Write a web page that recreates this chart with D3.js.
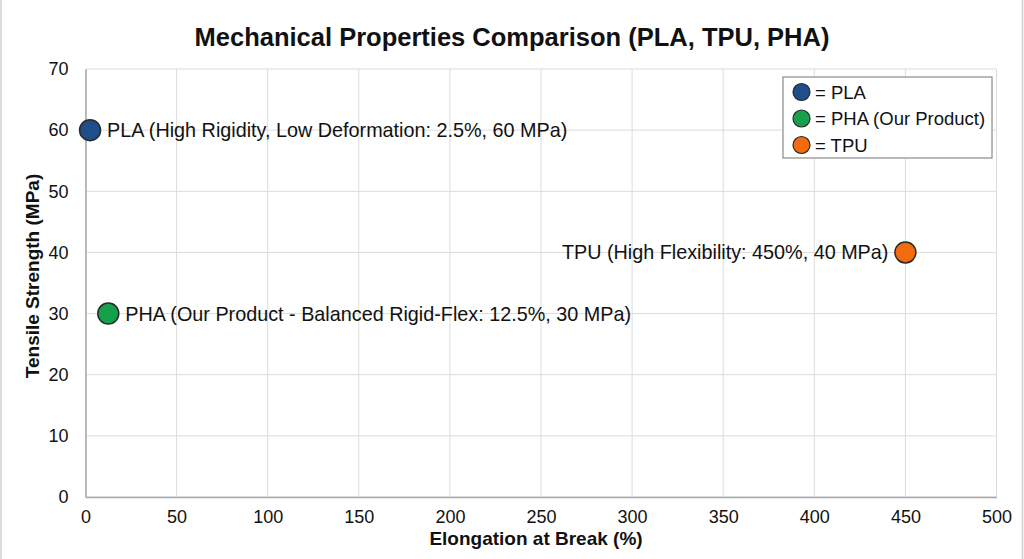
<!DOCTYPE html>
<html>
<head>
<meta charset="utf-8">
<script src="https://cdn.jsdelivr.net/npm/d3@7/dist/d3.min.js"></script>
<style>
  html, body { margin: 0; padding: 0; background: #fff; }
  svg { display: block; font-family: "Liberation Sans", Arial, Helvetica, sans-serif; }
</style>
</head>
<body>
<svg id="chart" width="1024" height="559"></svg>
<script>
const materials = ["PLA", "PHA", "TPU"];
const elongation = [2.5, 12.5, 450];
const tensile = [60, 30, 40];
const pointLabels = [
  "PLA (High Rigidity, Low Deformation: 2.5%, 60 MPa)",
  "PHA (Our Product - Balanced Rigid-Flex: 12.5%, 30 MPa)",
  "TPU (High Flexibility: 450%, 40 MPa)"
];
const labelSide = ["right", "right", "left"];
const colors = ["#1f4e8a", "#17a04c", "#f26b0c"];
const legendLabels = ["= PLA", "= PHA (Our Product)", "= TPU"];
const legendColors = ["#1f4e8a", "#17a04c", "#f26b0c"];
const xTicks = [0, 50, 100, 150, 200, 250, 300, 350, 400, 450, 500];
const yTicks = [0, 10, 20, 30, 40, 50, 60, 70];

const svg = d3.select("#chart");
const W = 1024, H = 559;
const m = { left: 85.5, right: 996.5, top: 69, bottom: 497 };

// outer frame lines
svg.append("line").attr("x1", 1).attr("x2", 1).attr("y1", 0).attr("y2", H)
  .attr("stroke", "#d0d0d0").attr("stroke-width", 1.5);
svg.append("line").attr("x1", 1022.5).attr("x2", 1022.5).attr("y1", 0).attr("y2", H)
  .attr("stroke", "#d0d0d0").attr("stroke-width", 1.5);

const x = d3.scaleLinear().domain([0, 500]).range([m.left, m.right]);
const y = d3.scaleLinear().domain([0, 70]).range([m.bottom, m.top]);

// gridlines
svg.append("g").selectAll("line").data(xTicks).join("line")
  .attr("x1", d => x(d)).attr("x2", d => x(d))
  .attr("y1", m.top).attr("y2", m.bottom)
  .attr("stroke", "#dcdcdc").attr("stroke-width", 1);
svg.append("g").selectAll("line").data(yTicks).join("line")
  .attr("x1", m.left).attr("x2", m.right)
  .attr("y1", d => y(d)).attr("y2", d => y(d))
  .attr("stroke", "#dcdcdc").attr("stroke-width", 1);

// axes
const xAxis = svg.append("g").attr("transform", `translate(0,${m.bottom})`)
  .call(d3.axisBottom(x).tickValues(xTicks).tickSize(0).tickPadding(13));
const yAxis = svg.append("g").attr("transform", `translate(${m.left},0)`)
  .call(d3.axisLeft(y).tickValues(yTicks).tickSize(0).tickPadding(17));
[xAxis, yAxis].forEach(a => {
  a.select(".domain").attr("stroke", "#a8a8a8").attr("stroke-width", 1.5);
  a.selectAll("text").attr("font-size", 18).attr("fill", "#111")
    .attr("font-family", "'Liberation Sans', Arial, sans-serif");
});

// title
svg.append("text").attr("x", 512).attr("y", 46).attr("text-anchor", "middle")
  .attr("font-size", 25.5).attr("font-weight", "bold").attr("fill", "#111")
  .text("Mechanical Properties Comparison (PLA, TPU, PHA)");

// axis titles
svg.append("text").attr("x", 536).attr("y", 545).attr("text-anchor", "middle")
  .attr("font-size", 19).attr("font-weight", "bold").attr("fill", "#111")
  .text("Elongation at Break (%)");
svg.append("text").attr("transform", `translate(39,${(m.top + m.bottom) / 2 - 7}) rotate(-90)`)
  .attr("text-anchor", "middle")
  .attr("font-size", 19).attr("font-weight", "bold").attr("fill", "#111")
  .text("Tensile Strength (MPa)");

// points
const pts = materials.map((d, i) => ({ name: d, ex: elongation[i], ts: tensile[i], label: pointLabels[i], side: labelSide[i], color: colors[i] }));
svg.append("g").selectAll("circle").data(pts).join("circle")
  .attr("cx", d => x(d.ex)).attr("cy", d => y(d.ts)).attr("r", 10.5)
  .attr("fill", d => d.color).attr("stroke", "#2a2a2a").attr("stroke-width", 1.5);
svg.append("g").selectAll("text").data(pts).join("text")
  .attr("x", d => d.side === "right" ? x(d.ex) + 17 : x(d.ex) - 17)
  .attr("y", d => y(d.ts) + 7)
  .attr("text-anchor", d => d.side === "right" ? "start" : "end")
  .attr("font-size", 19.8).attr("fill", "#111")
  .text(d => d.label);

// legend
const lg = svg.append("g");
lg.append("rect").attr("x", 783).attr("y", 77).attr("width", 209).attr("height", 81)
  .attr("fill", "#fff").attr("stroke", "#8a8a8a").attr("stroke-width", 1.2);
legendLabels.forEach((t, i) => {
  const cy = 92 + i * 26.5;
  lg.append("circle").attr("cx", 801.5).attr("cy", cy).attr("r", 8.5)
    .attr("fill", legendColors[i]).attr("stroke", "#2a2a2a").attr("stroke-width", 1.2);
  lg.append("text").attr("x", 815).attr("y", cy + 6.5).attr("font-size", 18.5).attr("fill", "#111").text(t);
});
</script>
</body>
</html>
